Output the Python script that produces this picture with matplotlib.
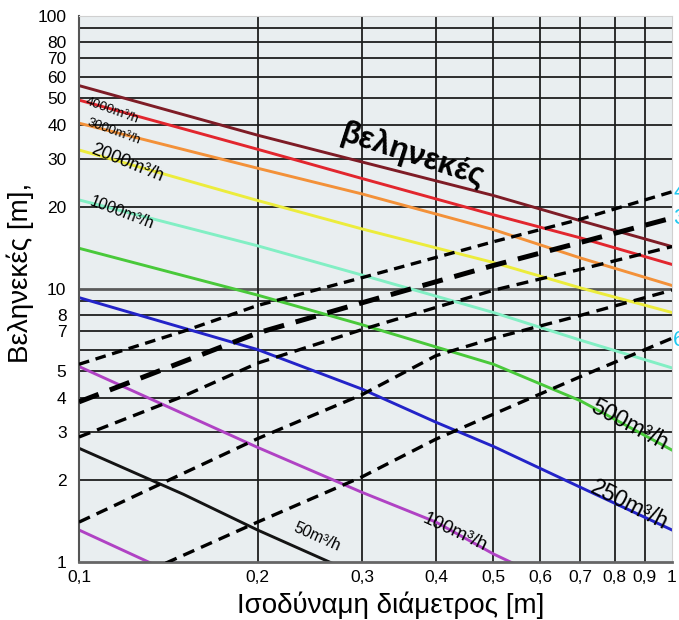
import matplotlib
matplotlib.use("Agg")
import matplotlib.pyplot as plt

plt.rcParams["font.family"] = ["Liberation Sans", "DejaVu Sans"]

# throw (m) against equivalent diameter (m), one curve per air flow
diam_top = [0.1, 0.2, 0.3, 0.5, 0.7, 1.0]
throw_5000 = [55.6, 36.6, 29.2, 22.0, 17.8, 14.3]
throw_4000 = [49.2, 32.5, 25.4, 18.7, 15.4, 12.3]
throw_3000 = [40.5, 27.7, 22.3, 16.5, 13.0, 10.3]
throw_2000 = [32.3, 21.1, 16.6, 12.5, 10.1, 8.2]
throw_1000 = [21.2, 14.4, 11.25, 8.2, 6.5, 5.14]
throw_500 = [14.1, 9.5, 7.4, 5.3, 3.9, 2.57]

diam_250 = [0.1, 0.2, 0.3, 0.4, 0.5, 0.7, 1.0]
throw_250 = [9.3, 6.0, 4.3, 3.25, 2.65, 1.88, 1.31]

diam_100 = [0.1, 0.2, 0.3, 0.4, 0.5, 0.55]
throw_100 = [5.2, 2.63, 1.8, 1.4, 1.07, 0.97]

diam_50 = [0.1, 0.15, 0.2, 0.27]
throw_50 = [2.61, 1.77, 1.31, 0.98]

diam_25 = [0.1, 0.135]
throw_25 = [1.31, 0.97]

# rising dashed reference lines
dash_a_d = [0.1, 0.15, 0.2, 0.3, 0.5, 0.7, 1.0]
dash_a_v = [5.3, 7.0, 8.7, 11.0, 14.9, 18.0, 22.7]
dash_b_d = [0.1, 0.2, 0.3, 0.5, 0.7, 1.0]
dash_b_v = [3.86, 6.9, 8.9, 12.2, 14.8, 18.2]
dash_c_d = [0.1, 0.15, 0.2, 0.3, 0.5, 0.7, 1.0]
dash_c_v = [2.87, 4.05, 5.35, 7.1, 9.9, 11.8, 14.3]
dash_d_d = [0.1, 0.2, 0.3, 0.4, 0.5, 0.7, 1.0]
dash_d_v = [1.4, 2.83, 4.1, 5.7, 6.6, 8.0, 9.9]
dash_e_d = [0.14, 0.2, 0.3, 0.4, 0.5, 0.7, 1.0]
dash_e_v = [0.99, 1.40, 2.05, 2.82, 3.48, 4.77, 6.6]

x_ticks = [0.1, 0.2, 0.3, 0.4, 0.5, 0.6, 0.7, 0.8, 0.9, 1.0]
x_tick_labels = ["0,1", "0,2", "0,3", "0,4", "0,5", "0,6", "0,7", "0,8", "0,9", "1"]
y_ticks = [1, 2, 3, 4, 5, 7, 8, 10, 20, 30, 40, 50, 60, 70, 80, 100]
y_grid = [2, 3, 4, 5, 6, 7, 8, 9, 20, 30, 40, 50, 60, 70, 80, 90]

fig = plt.figure(figsize=(6.79, 6.20), dpi=100)
ax = fig.add_axes([79 / 679, 58 / 620, 593 / 679, 546 / 620])
ax.set_facecolor("#e9eef0")
ax.set_xscale("log")
ax.set_yscale("log")
ax.set_xlim(0.1, 1.0)
ax.set_ylim(1, 100)

for y in y_grid:
    ax.axhline(y, color="#1e1e1e", lw=1.3, zorder=1)
ax.axhline(10, color="#5a5a5a", lw=2.0, zorder=1)
for x in x_ticks[1:-1]:
    ax.axvline(x, color="#1e1e1e", lw=1.3, zorder=1)

curves = [
    (diam_top, throw_5000, "#7e1c26"),
    (diam_top, throw_4000, "#e2262e"),
    (diam_top, throw_3000, "#f39139"),
    (diam_top, throw_2000, "#ecec3c"),
    (diam_top, throw_1000, "#82efc4"),
    (diam_top, throw_500, "#49c93a"),
    (diam_250, throw_250, "#2323c8"),
    (diam_100, throw_100, "#b042c4"),
    (diam_50, throw_50, "#141414"),
    (diam_25, throw_25, "#b042c4"),
]
for d, v, c in curves:
    ax.plot(d, v, color=c, lw=2.1, zorder=2)

ax.plot(dash_a_d, dash_a_v, color="black", lw=2.4, dashes=(3.2, 2.0), zorder=3)
ax.plot(dash_b_d, dash_b_v, color="black", lw=3.6, dashes=(4.2, 2.4), zorder=3)
ax.plot(dash_c_d, dash_c_v, color="black", lw=2.4, dashes=(3.6, 2.2), zorder=3)
ax.plot(dash_d_d, dash_d_v, color="black", lw=2.4, dashes=(3.6, 2.2), zorder=3)
ax.plot(dash_e_d, dash_e_v, color="black", lw=2.4, dashes=(3.6, 2.2), zorder=3)

ax.minorticks_off()
ax.set_xticks(x_ticks)
ax.set_xticklabels(x_tick_labels)
ax.set_yticks(y_ticks)
ax.set_yticklabels([str(v) for v in y_ticks])
ax.tick_params(axis="both", length=0, labelsize=12.5)
ax.tick_params(axis="x", pad=6)
ax.tick_params(axis="y", pad=9)

ax.spines["left"].set_color("#555555")
ax.spines["left"].set_linewidth(1.5)
ax.spines["bottom"].set_color("#666666")
ax.spines["bottom"].set_linewidth(2.0)
ax.spines["top"].set_color("#d0d0d0")
ax.spines["right"].set_color("#d0d0d0")

labels = [
    (0.1135, 45.0, "4000m³/h", 9.5, -20),
    (0.1145, 37.6, "3000m³/h", 9.5, -20),
    (0.1205, 29.0, "2000m³/h", 13, -22),
    (0.118, 19.0, "1000m³/h", 11.5, -21),
    (0.848, 3.18, "500m³/h", 16.5, -28),
    (0.848, 1.62, "250m³/h", 16.5, -27),
    (0.431, 1.28, "100m³/h", 13.5, -25),
    (0.252, 1.235, "50m³/h", 11.5, -24),
]
for x, y, s, fs, rot in labels:
    ax.text(x, y, s, fontsize=fs, rotation=rot, ha="center", va="center",
            rotation_mode="anchor", zorder=4)

ax.text(0.366, 30.8, "βεληνεκές", fontsize=22.5, fontweight="bold",
        rotation=-18, ha="center", va="center", rotation_mode="anchor", zorder=4)

fig.text(20 / 679, 1 - 273 / 620, "Βεληνεκές [m],", rotation=90,
         ha="center", va="center", fontsize=20)
fig.text(391 / 679, 15 / 620, "Ισοδύναμη διάμετρος [m]",
         ha="center", va="center", fontsize=20)

# partly visible side labels at the right edge
for ypx, s in [(192, "4"), (218, "3"), (341, "6")]:
    fig.text(673 / 679, 1 - ypx / 620, s, color="#22c8f0", fontsize=16,
             ha="left", va="center")

fig.savefig("out.png", dpi=100)
